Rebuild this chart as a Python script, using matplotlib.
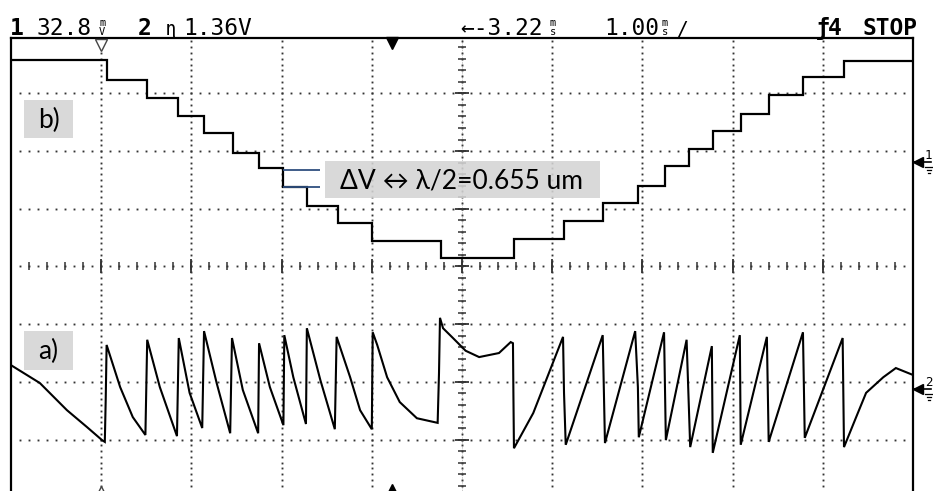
import numpy as np
import matplotlib
matplotlib.use("Agg")
import matplotlib.pyplot as plt
from matplotlib.patches import Rectangle
from matplotlib.lines import Line2D

W, H = 933, 491

# ---------------- data (time in ms from left screen edge, amplitude in divisions) -------------
# Trace b) : interferometer fringe count staircase (channel 1)
b_edges = [0.00, 1.064, 1.508, 1.851, 2.140, 2.461, 2.749, 3.016, 3.282, 3.625, 4.002,
           4.767, 5.576, 6.131, 6.563, 6.951, 7.251, 7.517, 7.783, 8.093, 8.404, 8.780,
           9.235, 10.0]
b_levels = [3.58, 3.23, 2.92, 2.61, 2.31, 1.97, 1.71, 1.38, 1.05, 0.75, 0.44,
            0.15, 0.48, 0.79, 1.10, 1.40, 1.74, 2.04, 2.35, 2.64, 2.97, 3.28, 3.56]

# Trace a) : detector signal sawtooth (channel 2)
a_t = [0.01, 0.32, 0.62, 0.84, 1.01, 1.04, 1.05, 1.06, 1.21, 1.35, 1.49,
       1.51, 1.65, 1.84, 1.86, 1.98, 2.12, 2.14, 2.28, 2.43, 2.45, 2.57, 2.74,
       2.75, 2.87, 3.02, 3.03, 3.13, 3.27, 3.28, 3.43, 3.59, 3.61, 3.76, 3.87,
       4.00, 4.01, 4.06, 4.17, 4.31, 4.50, 4.73, 4.745, 4.756, 4.79, 4.90,
       5.04, 5.19, 5.41, 5.54, 5.565, 5.57, 5.576, 5.79, 6.12, 6.131, 6.15,
       6.56, 6.585, 6.92, 6.95, 6.96, 7.24, 7.26, 7.49, 7.53, 7.77, 7.78,
       8.08, 8.09, 8.38, 8.40, 8.78, 8.80, 9.22, 9.235, 9.37, 9.48, 9.67,
       9.81, 10.0]
a_v = [-1.72, -2.02, -2.49, -2.78, -3.01, -3.04, -2.31, -1.36, -2.09, -2.61, -2.92,
       -1.27, -2.09, -2.94, -1.24, -2.19, -2.80, -1.12, -2.02, -2.89, -1.24, -2.14, -2.89,
       -1.33, -2.09, -2.75, -1.19, -1.92, -2.73, -1.07, -1.97, -2.82, -1.22, -1.92, -2.49,
       -2.82, -1.14, -1.36, -1.92, -2.35, -2.63, -2.71, -1.85, -0.89, -1.07, -1.24,
       -1.46, -1.57, -1.50, -1.31, -1.33, -2.23, -3.15, -2.54, -1.22, -2.19, -3.09,
       -1.19, -3.06, -1.12, -2.09, -2.96, -1.14, -3.01, -1.27, -3.13, -1.38, -3.23,
       -1.19, -3.09, -1.22, -3.04, -1.14, -2.97, -1.24, -3.13, -2.61, -2.19, -1.92,
       -1.76, -1.88]

header_main = ["32.8", "1.36V", "\u2190-3.22", "1.00", "STOP"]
annot_text = "\u0394V \u2194 \u03bb/2=0.655 um"
step_marks = [1.67, 1.38]          # the two annotated step levels
trig_t, ref_t = 1.0, 4.22          # trigger (open) and reference (filled) time markers

# ---------------- figure ----------------
fig = plt.figure(figsize=(W / 100, H / 100), dpi=100)
fig.patch.set_facecolor("white")
ax = fig.add_axes([11 / W, 0, 902 / W, 453 / H])
ax.set_xlim(0, 10)
ax.set_ylim(-3.891, 3.960)
ax.set_xticks([])
ax.set_yticks([])
for s in ["left", "top", "right"]:
    ax.spines[s].set_linewidth(1.6)
    ax.spines[s].set_color("black")
ax.spines["bottom"].set_visible(False)

dot_kw = dict(ls="none", marker="s", ms=1.35, mew=0, color="#333333", zorder=1)
# dotted graticule
tt = np.arange(1, 100) / 10.0
for v in [3, 2, 1, -1, -2, -3]:
    ax.plot(tt, np.full_like(tt, v), **dot_kw)
vv = np.arange(-39, 40) / 10.0
for t in [1, 2, 3, 4, 6, 7, 8, 9]:
    ax.plot(np.full_like(vv, t), vv, **dot_kw)
# center axes with ticks
ax.plot(np.full_like(vv, 5.0), vv, **dot_kw)
ax.plot(tt, np.zeros_like(tt), **dot_kw)
vt = np.arange(-19, 20) / 5.0
ax.plot(np.full_like(vt, 5.0), vt, ls="none", marker="_", ms=5.5, mew=1.1, color="#333", zorder=1)
vm = np.arange(-3, 4)
ax.plot(np.full_like(vm, 5.0, dtype=float), vm, ls="none", marker="_", ms=10, mew=1.3, color="#333", zorder=1)
ax.plot([5, 5], [-3.9, 3.96], color="#555", lw=0.4, ls=(0, (1, 2)), zorder=1)
ht = np.arange(1, 50) / 5.0
ax.plot(ht, np.zeros_like(ht), ls="none", marker="|", ms=5.5, mew=1.1, color="#333", zorder=1)
hm = np.arange(1, 10)
ax.plot(hm, np.zeros_like(hm, dtype=float), ls="none", marker="|", ms=10, mew=1.3, color="#333", zorder=1)

# traces
ax.stairs(b_levels, b_edges, color="black", lw=1.6, baseline=None, zorder=3)
ax.plot(a_t, a_v, color="black", lw=1.5, zorder=3, solid_joinstyle="miter")

# annotation lines
ax.hlines(step_marks, 3.016, 3.426, color="#2f4f7f", lw=1.3, zorder=4)

# time markers top and bottom
trans_top = ax.get_xaxis_transform()
ax.plot([trig_t], [0.985], marker="v", ms=8, mfc="white", mec="#444", mew=1.0,
        transform=trans_top, clip_on=False, zorder=5)
ax.plot([ref_t], [0.99], marker="v", ms=9, color="black", transform=trans_top,
        clip_on=False, zorder=5)
ax.plot([trig_t], [0.002], marker="^", ms=6, mfc="white", mec="#444", mew=1.0,
        transform=trans_top, clip_on=False, zorder=5)
ax.plot([ref_t], [0.004], marker="^", ms=7, color="black", transform=trans_top,
        clip_on=False, zorder=5)


def fx(x):
    return x / W


def fy(y):
    return 1 - y / H


def ftxt(x, y, s, **kw):
    fig.text(fx(x), fy(y), s, **kw)


mono = "DejaVu Sans Mono"
hs = 16.5
unit_kw = dict(fontsize=7.5, family=mono, linespacing=0.85, ha="left", va="bottom",
               multialignment="center")
# header
ftxt(10, 35, "1", fontsize=hs, family=mono, weight="bold")
ftxt(37, 35, header_main[0], fontsize=hs, family=mono)
ftxt(99, 37, "m\nV", **unit_kw)
ftxt(138, 35, "2", fontsize=hs, family=mono, weight="bold")
ftxt(166, 35, "\u0273", fontsize=14, family=mono)
ftxt(183, 35, header_main[1], fontsize=hs, family=mono)
ftxt(460, 35, header_main[2], fontsize=hs, family=mono)
ftxt(550, 37, "m\ns", **unit_kw)
ftxt(604, 35, header_main[3], fontsize=hs, family=mono)
ftxt(662, 37, "m\ns", **unit_kw)
ftxt(676, 35, "/", fontsize=14, family=mono)
ftxt(816, 35, "\u0192", fontsize=hs, family=mono, weight="bold")
ftxt(828, 35, "4", fontsize=hs, family=mono, weight="bold")
ftxt(862, 35, header_main[4], fontsize=hs, family=mono, weight="bold")

# right-side channel markers
for lab, yy in [("1", 162), ("2", 389)]:
    fig.add_artist(Line2D([fx(913), fx(931)], [fy(yy), fy(yy)], color="black", lw=1.2))
    fig.add_artist(Line2D([fx(918)], [fy(yy)], marker="<", ms=7, color="black"))
    ftxt(925, yy - 3, lab, fontsize=9, family=mono)
    fig.add_artist(Line2D([fx(925), fx(933)], [fy(yy + 5), fy(yy + 5)], color="black", lw=0.9))
    fig.add_artist(Line2D([fx(927), fx(931)], [fy(yy + 8), fy(yy + 8)], color="black", lw=0.9))
    fig.add_artist(Line2D([fx(928), fx(930)], [fy(yy + 10.5), fy(yy + 10.5)], color="black", lw=0.9))

# label boxes
box_kw = dict(facecolor="#d4d4d4", edgecolor="none", alpha=0.88, transform=fig.transFigure)
fig.add_artist(Rectangle((fx(24), fy(138)), 49 / W, 38 / H, **box_kw))
fig.add_artist(Rectangle((fx(24), fy(370)), 49 / W, 39 / H, **box_kw))
fig.add_artist(Rectangle((fx(325), fy(198)), 275 / W, 37 / H, **box_kw))
lab_font = ["Lato", "DejaVu Sans"]
ftxt(48.5, 120, "b)", fontsize=19, family=lab_font, ha="center", va="center")
ftxt(48.5, 351, "a)", fontsize=19, family=lab_font, ha="center", va="center")
ftxt(462, 181, annot_text, fontsize=19, family=lab_font, ha="center", va="center")

fig.savefig("out.png", dpi=100)
